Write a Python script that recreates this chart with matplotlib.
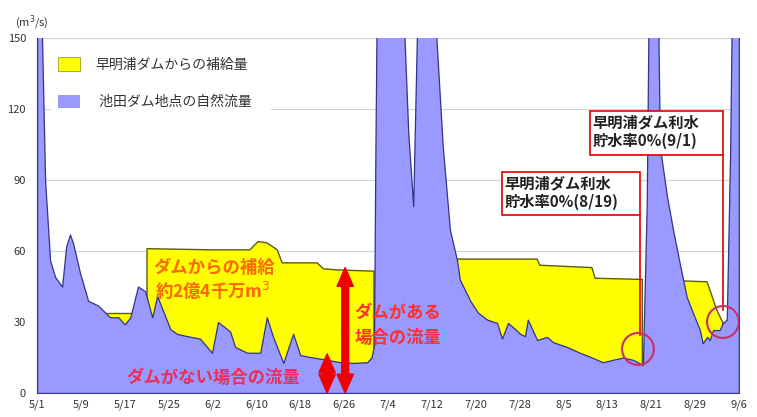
import matplotlib
matplotlib.use("Agg")
import matplotlib.pyplot as plt
import matplotlib.patches as mpatches
import numpy as np

plt.rcParams['font.family'] = ['Noto Sans CJK JP', 'DejaVu Sans']

# x axis: days counted from 5/1
tick_days = list(range(0, 129, 8))
tick_labels = ['5/1', '5/9', '5/17', '5/25', '6/2', '6/10', '6/18', '6/26', '7/4',
               '7/12', '7/20', '7/28', '8/5', '8/13', '8/21', '8/29', '9/6']

# natural flow at Ikeda dam (m3/s)
nat_days = [0, 0.9, 1.46, 2.37, 3.3, 4.56, 5.3, 6.0, 6.6, 7.8, 9.3, 11.1, 13.3, 14.8,
            16.0, 17.0, 18.4, 19.7, 21.0, 21.9, 24.3, 25.5, 27.4, 29.7, 31.9, 33.0,
            35.2, 36.1, 38.3, 40.7, 41.9, 43.0, 44.9, 46.7, 48.0, 50.3, 52.9, 55.3,
            57.6, 60.2, 61.0, 61.45, 61.7, 62.0, 66.6, 67.7, 68.6, 69.5, 72.2, 74.0,
            75.3, 76.6, 77.1, 79.0, 80.4, 82.1, 83.9, 84.8, 85.9, 87.2, 88.1, 89.0,
            89.5, 91.2, 93.0, 94.1, 96.6, 99.0, 101.4, 103.2, 105.0, 106.9, 108.7,
            110.5, 111.2, 111.6, 113.2, 113.6, 114.9, 116.0, 117.2, 118.5, 119.6,
            120.9, 121.4, 122.2, 122.7, 123.3, 124.5, 125.1, 125.8, 126.4, 126.8, 128]
nat_vals = [175, 150, 90, 56, 49, 45, 62, 67, 63, 51, 39, 37, 32, 32,
            29, 32, 45, 43, 32, 41, 27, 25, 24, 23, 17, 30,
            26, 19.5, 17, 17, 32, 24, 12.7, 25, 16, 15, 14, 13,
            12.7, 13, 15, 20, 100, 175, 175, 110, 79, 175, 175, 104,
            69, 56, 48, 39, 34, 31, 29.6, 23, 29.6, 27, 25, 24,
            31, 22.4, 23.7, 21.5, 19.5, 17, 14.8, 13, 14, 15, 14,
            11.8, 80, 175, 175, 104, 83, 69, 55, 40.5, 34,
            26.6, 21, 23.7, 22.4, 26.6, 26.6, 29.6, 31, 100, 175, 175]

# flow with supply from Sameura dam (NaN = no supply)
dam_days = [12.6, 17.6, 17.7,
            20.05, 32.1, 38.8, 40.3, 41.9, 43.8, 44.7, 51.1, 52.2, 54.9, 61.45, 61.5,
            76.2, 91.2, 91.7, 101.2, 101.8, 110.4, 110.5,
            116.0, 122.2, 123.1, 124.0, 125.1, 125.4]
dam_vals = [34, 34, np.nan,
            61, 60.5, 60.5, 64, 63.5, 60.5, 55, 55, 52.5, 52, 51.5, np.nan,
            56.6, 56.6, 54, 53, 48.5, 48, np.nan,
            47.5, 47, 41, 35, 29.6, np.nan]

fig = plt.figure(figsize=(7.57, 4.17), dpi=100)
ax = fig.add_axes([0.049, 0.0576, 0.927, 0.851])

ax.fill_between(dam_days, 0, dam_vals, facecolor='#ffff00', edgecolor='#5c5c10',
                linewidth=1.0, zorder=2)
ax.fill_between(nat_days, 0, nat_vals, facecolor='#9999ff', edgecolor='#333388',
                linewidth=0.9, zorder=3)

ax.set_xlim(0, 128)
ax.set_ylim(0, 150)
ax.set_xticks(tick_days)
ax.set_xticklabels(tick_labels)
ax.set_yticks([0, 30, 60, 90, 120, 150])
ax.tick_params(axis='both', length=0, labelsize=8, labelcolor='#333333')
ax.tick_params(axis='x', pad=5)
ax.tick_params(axis='y', pad=8)
ax.grid(axis='y', color='#d4d4d4', linewidth=0.8)
ax.set_axisbelow(True)
for s in ['top', 'right']:
    ax.spines[s].set_visible(False)
ax.spines['left'].set_color('#888888')
ax.spines['bottom'].set_color('#888888')

fig.text(0.02, 0.945, '(m$^3$/s)', fontsize=8, color='#333333', ha='left', va='center')

# legend
handles = [mpatches.Patch(facecolor='#ffff00', edgecolor='#a0a020', linewidth=0.6),
           mpatches.Patch(facecolor='#9999ff', edgecolor='none')]
leg = ax.legend(handles, ['早明浦ダムからの補給量', ' 池田ダム地点の自然流量    '],
                loc='upper left', bbox_to_anchor=(0.02, 0.965), borderaxespad=0,
                fontsize=10, handlelength=1.6, handleheight=1.1, labelspacing=1.65,
                handletextpad=1.1, borderpad=0.5, frameon=True, fancybox=False)
leg.get_frame().set_edgecolor('none')
leg.get_frame().set_facecolor('white')
leg.get_frame().set_alpha(1)
leg.set_zorder(4)
for t in leg.get_texts():
    t.set_color('#333333')

# text annotations
ax.text(21.3, 53, 'ダムからの補給', fontsize=12.5, fontweight='bold', color='#ff6600',
        ha='left', va='center', zorder=6)
ax.text(21.5, 43.5, '約2億4千万m$^3$', fontsize=12.5, fontweight='bold', color='#ff6600',
        ha='left', va='center', zorder=6)
ax.text(32.2, 6.5, 'ダムがない場合の流量', fontsize=12.5, fontweight='bold',
        color='#e8305a', ha='center', va='center', zorder=6)
ax.text(57.9, 33.8, 'ダムがある', fontsize=12.5, fontweight='bold', color='#ff3030',
        ha='left', va='center', zorder=6)
ax.text(57.9, 23.2, '場合の流量', fontsize=12.5, fontweight='bold', color='#ff3030',
        ha='left', va='center', zorder=6)

# double arrows
def double_arrow(x, y0, y1):
    mid = (y0 + y1) / 2
    for end in (y0, y1):
        arr = mpatches.FancyArrowPatch((x, mid), (x, end),
                                       arrowstyle='simple,head_length=1.5,head_width=1.3,tail_width=0.55',
                                       mutation_scale=9, color='#ee0000', zorder=6,
                                       shrinkA=0, shrinkB=0)
        ax.add_patch(arr)

double_arrow(52.9, 0, 16.5)
double_arrow(56.2, 0, 53)

# callout boxes
def callout(x0, x1, y0, y1, lines, line_bottom):
    ax.add_patch(mpatches.Rectangle((x0, y0), x1 - x0, y1 - y0, facecolor='white',
                                    edgecolor='#e00000', linewidth=1.2, zorder=6))
    ax.text(x0 + 0.5, y1 - (y1 - y0) * 0.27, lines[0], fontsize=11, fontweight='bold',
            color='#222222', ha='left', va='center', zorder=7)
    ax.text(x0 + 0.5, y1 - (y1 - y0) * 0.7, lines[1], fontsize=11, fontweight='bold',
            color='#222222', ha='left', va='center', zorder=7)
    ax.plot([x1, x1], [y0, line_bottom], color='#e00000', linewidth=1.2, zorder=6)

callout(84.8, 110.0, 75.2, 93.4, ['早明浦ダム利水', '貯水率0%(8/19)'], 24.5)
callout(100.8, 125.1, 100.8, 119.4, ['早明浦ダム利水', '貯水率0%(9/1)'], 35)

for cx, cy in [(109.6, 18.6), (125.1, 30.0)]:
    ax.add_patch(mpatches.Ellipse((cx, cy), 5.8, 13.5, facecolor='none',
                                  edgecolor='#c8306a', linewidth=1.5, zorder=6))

fig.savefig('out.png', dpi=100)
